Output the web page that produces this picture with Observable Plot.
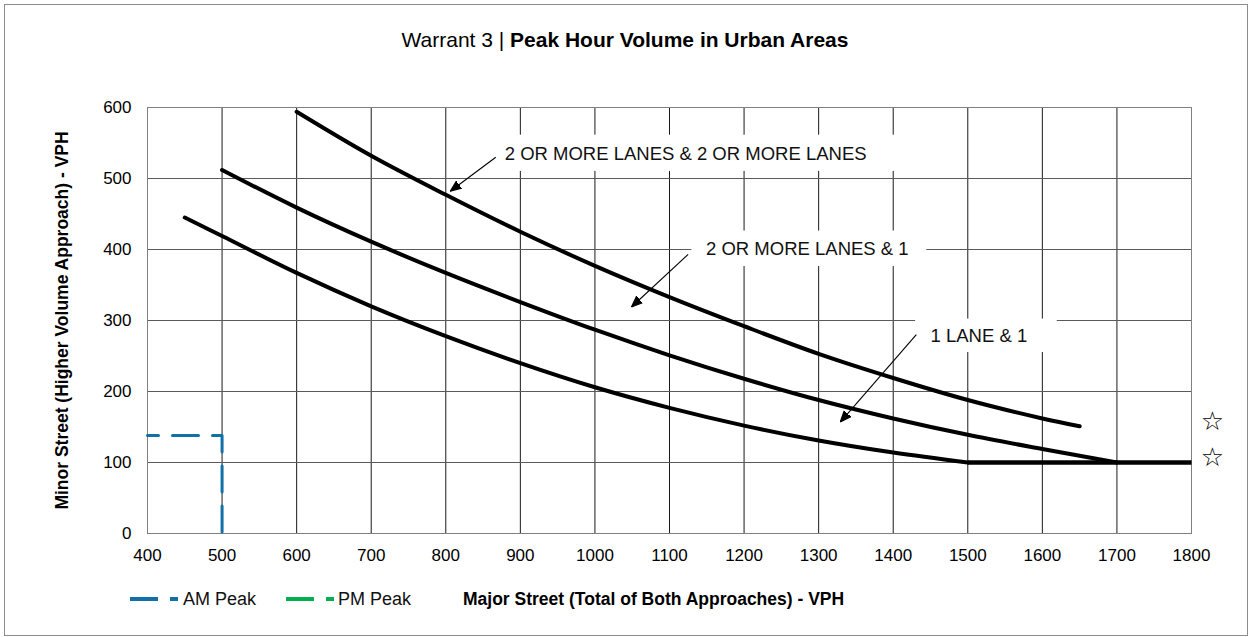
<!DOCTYPE html>
<html>
<head>
<meta charset="utf-8">
<script src="https://cdn.jsdelivr.net/npm/d3@7"></script>
<script src="https://cdn.jsdelivr.net/npm/@observablehq/plot@0.6"></script>
<style>
  body { margin: 0; background: #fff; font-family: "Liberation Sans", Arial, sans-serif; }
  #wrap { position: relative; width: 1250px; height: 637px; overflow: hidden; background: #fff; }
  #border { position: absolute; left: 4px; top: 4px; width: 1244px; height: 632px; border: 1px solid #8c8c8c; box-sizing: border-box; }
  #title { position: absolute; top: 27px; left: 0; width: 1250px; text-align: center; font-size: 21px; line-height: 26px; color: #000; }
  #chart { position: absolute; top: 80px; left: 0; }
  .leg { position: absolute; top: 588px; height: 22px; line-height: 22px; font-size: 18px; color: #111; white-space: nowrap; }
  .legsw { position: absolute; top: 588px; }
  #xlabel { position: absolute; top: 588px; left: 463px; line-height: 22px; font-size: 17.5px; font-weight: bold; color: #000; white-space: nowrap; }
  #chart g[aria-label="y-axis label"] text { font-weight: bold; font-size: 17.5px; }
</style>
</head>
<body>
<div id="wrap">
  <div id="border"></div>
  <div id="title">Warrant 3 | <b>Peak Hour Volume in Urban Areas</b></div>
  <div id="chart"></div>
  <svg class="legsw" style="left:128px" width="52" height="22"><line x1="2" y1="11" x2="50" y2="11" stroke="#1170a8" stroke-width="4" stroke-dasharray="28 12"/></svg>
  <div class="leg" style="left:183px">AM Peak</div>
  <svg class="legsw" style="left:284px" width="52" height="22"><line x1="2" y1="11" x2="50" y2="11" stroke="#00b050" stroke-width="4" stroke-dasharray="28 12"/></svg>
  <div class="leg" style="left:338px">PM Peak</div>
  <div id="xlabel">Major Street (Total of Both Approaches) - VPH</div>
</div>
<script>
// ---- Data ----
const xTicks = [400, 500, 600, 700, 800, 900, 1000, 1100, 1200, 1300, 1400, 1500, 1600, 1700, 1800];
const yTicks = [0, 100, 200, 300, 400, 500, 600];
const xGrid = [500, 600, 700, 800, 900, 1000, 1100, 1200, 1300, 1400, 1500, 1600, 1700];
const yGrid = [100, 200, 300, 400, 500];

// 2 OR MORE LANES & 2 OR MORE LANES
const twoTwoMajor = [600, 700, 800, 900, 1000, 1100, 1200, 1300, 1400, 1500, 1600, 1650];
const twoTwoMinor = [594, 532, 477, 425, 377, 333, 292, 253, 219, 188, 162, 151];
// 2 OR MORE LANES & 1
const twoOneMajor = [500, 600, 700, 800, 900, 1000, 1100, 1200, 1300, 1400, 1500, 1600, 1700];
const twoOneMinor = [512, 459, 411, 367, 326, 287, 251, 218, 188, 162, 139, 119, 100];
// 1 LANE & 1 (curved part, then the 100 VPH floor)
const oneOneMajor = [450, 500, 600, 700, 800, 900, 1000, 1100, 1200, 1300, 1400, 1500];
const oneOneMinor = [445, 419, 367, 320, 278, 240, 206, 177, 152, 131, 114, 100];
const floorMajor = [1500, 1800];
const floorMinor = [100, 100];

// AM Peak point (major, minor)
const amMajor = [400, 500, 500];
const amMinor = [138, 138, 0];
// PM Peak (no value shown)
const pmMajor = [];
const pmMinor = [];

// Curve labels
const labelText = ["2 OR MORE LANES & 2 OR MORE LANES", "2 OR MORE LANES & 1", "1 LANE & 1"];
const labelX = [879, 1149, 1450];
const labelY = [535, 400, 278];
// white boxes behind labels
const boxX1 = [860, 1130, 1430];
const boxX2 = [1417, 1445, 1620];
const boxY1 = [510, 376, 255];
const boxY2 = [561, 426, 302];
// arrows (from -> to)
const arrowX1 = [867, 1125, 1431];
const arrowY1 = [530, 393, 280];
const arrowX2 = [806, 1049, 1329];
const arrowY2 = [482, 319, 157];
// stars at the right
const starX = [1828, 1828];
const starY = [158, 107];

// ---- Build tables ----
const curveRows = [
  ...twoTwoMajor.map((x, i) => ({series: "2+&2+", x, y: twoTwoMinor[i]})),
  ...twoOneMajor.map((x, i) => ({series: "2+&1", x, y: twoOneMinor[i]})),
  ...oneOneMajor.map((x, i) => ({series: "1&1", x, y: oneOneMinor[i]}))
];
const floorRows = floorMajor.map((x, i) => ({x, y: floorMinor[i]}));
const amRows = amMajor.map((x, i) => ({x, y: amMinor[i]}));
const pmRows = pmMajor.map((x, i) => ({x, y: pmMinor[i]}));
const labelRows = labelText.map((t, i) => ({t, x: labelX[i], y: labelY[i]}));
const boxRows = boxX1.map((v, i) => ({x1: v, x2: boxX2[i], y1: boxY1[i], y2: boxY2[i]}));
const arrowRows = arrowX1.map((v, i) => ({x1: v, y1: arrowY1[i], x2: arrowX2[i], y2: arrowY2[i]}));
const starRows = starX.map((x, i) => ({x, y: starY[i]}));

function filledArrow(color, context) {
  const doc = (context && context.document) || document;
  const ns = "http://www.w3.org/2000/svg";
  const m = doc.createElementNS(ns, "marker");
  m.setAttribute("viewBox", "-10 -5 10 10");
  m.setAttribute("markerWidth", "11");
  m.setAttribute("markerHeight", "11");
  m.setAttribute("refX", "0");
  m.setAttribute("refY", "0");
  m.setAttribute("orient", "auto");
  m.setAttribute("markerUnits", "userSpaceOnUse");
  const p = doc.createElementNS(ns, "path");
  p.setAttribute("d", "M-10,-4L0,0L-10,4Z");
  p.setAttribute("fill", color);
  m.appendChild(p);
  return m;
}

let arrowMark;
try {
  arrowMark = Plot.link(arrowRows, {x1: "x1", y1: "y1", x2: "x2", y2: "y2", stroke: "#000", strokeWidth: 1.1, markerEnd: filledArrow});
} catch (e) {
  arrowMark = Plot.arrow(arrowRows, {x1: "x1", y1: "y1", x2: "x2", y2: "y2", stroke: "#000", strokeWidth: 1.1, headLength: 10, headAngle: 50});
}

const chart = Plot.plot({
  width: 1250,
  height: 500,
  marginTop: 27,
  marginBottom: 47,
  marginLeft: 147,
  marginRight: 59,
  style: {fontFamily: '"Liberation Sans", Arial, sans-serif', fontSize: "17px", color: "#000", background: "transparent", overflow: "visible"},
  x: {domain: [400, 1800], ticks: xTicks, tickSize: 0, tickPadding: 15, tickFormat: "d", label: null},
  y: {domain: [0, 600], ticks: yTicks, tickSize: 0, tickPadding: 16, tickFormat: "d",
      label: "Minor Street (Higher Volume Approach) - VPH", labelAnchor: "center", labelOffset: 92, labelArrow: "none"},
  marks: [
    Plot.gridX(xGrid, {stroke: "#1a1a1a", strokeOpacity: 1, strokeWidth: 1}),
    Plot.gridY(yGrid, {stroke: "#5a5a5a", strokeOpacity: 1, strokeWidth: 1}),
    Plot.rect(boxRows, {x1: "x1", x2: "x2", y1: "y1", y2: "y2", fill: "#fff"}),
    Plot.frame({stroke: "#808080", strokeWidth: 1}),
    Plot.line(curveRows, {x: "x", y: "y", z: "series", stroke: "#000", strokeWidth: 4, curve: "catmull-rom", strokeLinecap: "round", strokeLinejoin: "round"}),
    Plot.line(floorRows, {x: "x", y: "y", stroke: "#000", strokeWidth: 4.5, strokeLinecap: "butt"}),
    Plot.line(pmRows, {x: "x", y: "y", stroke: "#00b050", strokeWidth: 3, strokeDasharray: "26,14"}),
    Plot.line(amRows, {x: "x", y: "y", stroke: "#1170a8", strokeWidth: 3, strokeDasharray: "26,14", strokeDashoffset: 15, strokeLinecap: "round"}),
    arrowMark,
    Plot.text(labelRows, {x: "x", y: "y", text: "t", textAnchor: "start", fontSize: 18.5, fill: "#111"}),
    Plot.text(starRows, {x: "x", y: "y", text: () => "\u2606", fontSize: 26, fill: "#000", fontFamily: "DejaVu Sans"})
  ]
});
document.getElementById("chart").appendChild(chart);
</script>
</body>
</html>
